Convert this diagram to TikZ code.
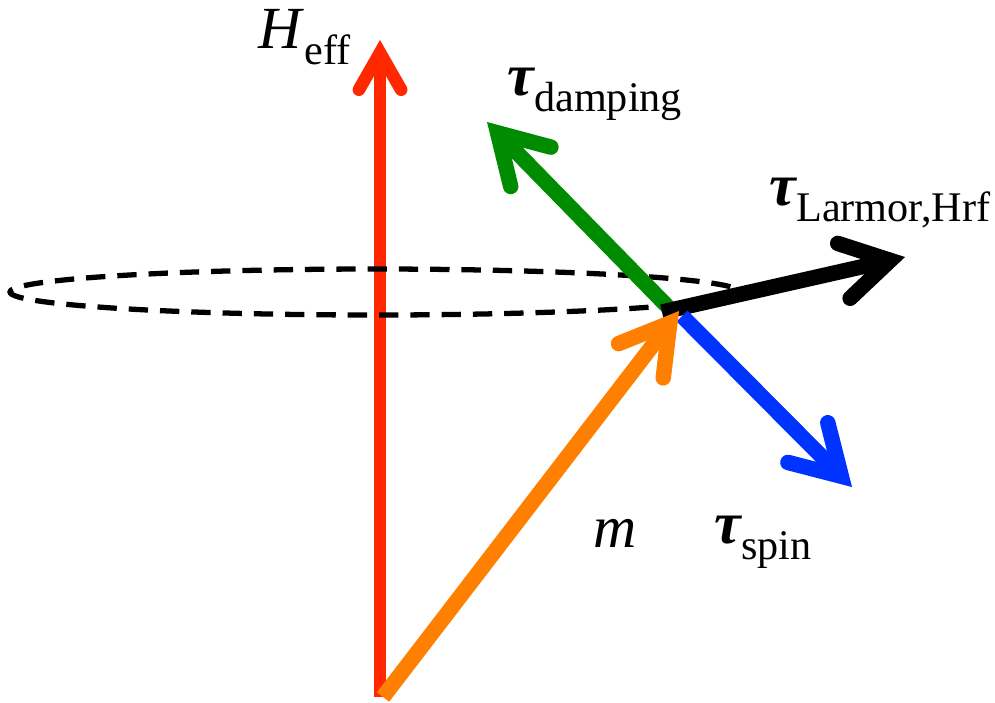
\documentclass[tikz,border=0pt]{standalone}
\usepackage{fontspec}
\setmainfont{Liberation Serif}
\usetikzlibrary{arrows.meta}
\definecolor{fieldred}{RGB}{255,40,0}
\definecolor{magorange}{RGB}{255,128,0}
\definecolor{dampgreen}{RGB}{0,140,0}
\definecolor{spinblue}{RGB}{0,51,255}
\newcommand{\vsub}[1]{\raisebox{-4.6pt}{\fontsize{12pt}{13pt}\selectfont #1}}
\newcommand{\vtau}{{\bfseries\itshape τ}}

\begin{document}
\begin{tikzpicture}[
        x=0.01cm, y=-0.01cm,
        vec/.style={line width=4.4pt,
                    -{Straight Barb[length=13.5pt, width=16pt, line cap=round, line join=miter]}},
        field/.style={line width=3.6pt, draw=fieldred,
                    -{Straight Barb[length=10.5pt, width=12pt, line cap=round, line join=miter]}},
        orbit/.style={line width=1.5pt, dash pattern=on 5.5pt off 3.4pt},
        lbl/.style={anchor=base west, inner sep=0pt, font=\fontsize{17pt}{20pt}\selectfont}
    ]
        \useasboundingbox (0,0) rectangle (995,702);

        \coordinate (base) at (380,697);
        \coordinate (heff) at (380,40);
        \coordinate (mbase) at (383,697);
        \coordinate (mtip) at (679,311);
        \coordinate (dstart) at (668,307);
        \coordinate (dtip) at (487,122);
        \coordinate (lstart) at (662,312);
        \coordinate (ltip) at (905,257);
        \coordinate (sstart) at (682,316);
        \coordinate (stip) at (852,487);

        \draw[field] (base) -- (heff);
        \draw[orbit] (375,292) ellipse [x radius=365, y radius=23];
        \draw[vec, draw=dampgreen] (dstart) -- (dtip);
        \draw[vec, draw=black] (lstart) -- (ltip);
        \draw[vec, draw=spinblue] (sstart) -- (stip);
        \draw[vec, draw=magorange] (mbase) -- (mtip);

        \node[lbl] (hlabel) at (258,48) {\textit{H}\vsub{eff}};
        \node[lbl] (dlabel) at (507,95) {\vtau\vsub{damping}};
        \node[lbl] (llabel) at (769,205) {\vtau\vsub{Larmor,Hrf}};
        \node[lbl] (mlabel) at (593,547) {\textit{m}};
        \node[lbl] (slabel) at (714,543) {\vtau\vsub{spin}};
\end{tikzpicture}
\end{document}
